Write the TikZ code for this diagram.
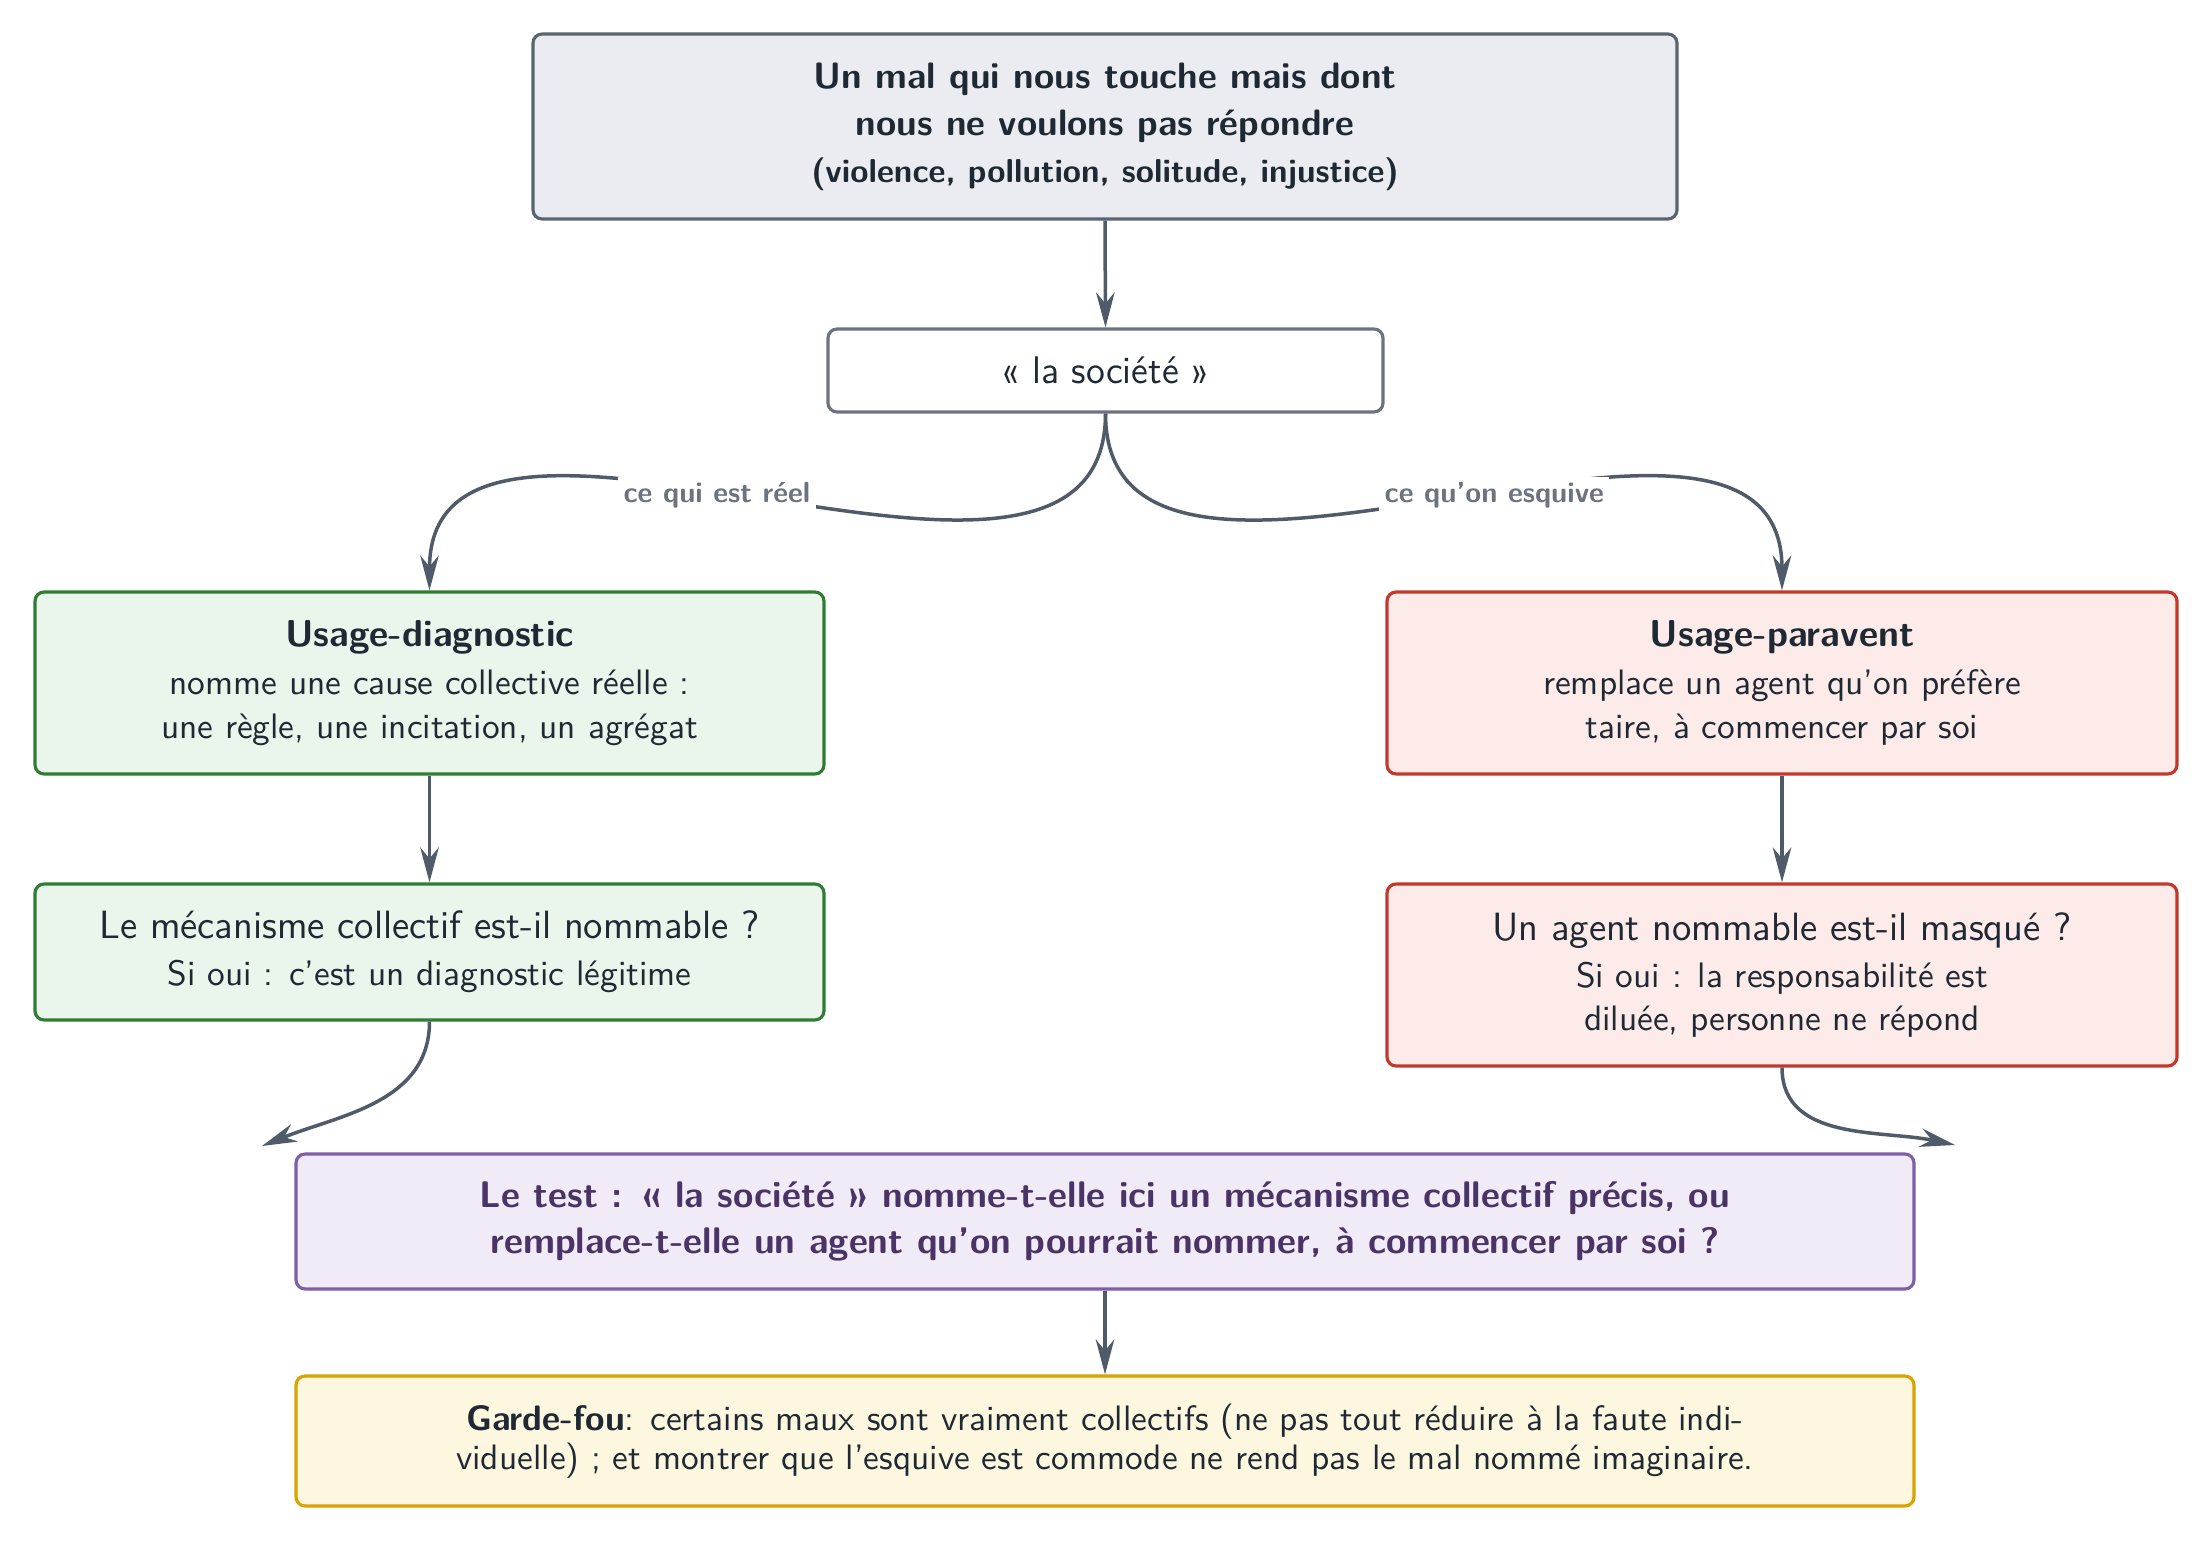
\documentclass[tikz,border=0pt]{standalone}
\usepackage{fontspec}
\usetikzlibrary{arrows.meta}
\definecolor{ink}{HTML}{1F2933}
\definecolor{arrowc}{HTML}{4F5B69}
\definecolor{lblc}{HTML}{6B7280}
\definecolor{topfill}{HTML}{EAECF1}
\definecolor{topdraw}{HTML}{5B6470}
\definecolor{socdraw}{HTML}{6B7280}
\definecolor{gfill}{HTML}{EAF5EC}
\definecolor{gdraw}{HTML}{2E7D32}
\definecolor{rfill}{HTML}{FDEBE9}
\definecolor{rdraw}{HTML}{C0392B}
\definecolor{pfill}{HTML}{F1EBF8}
\definecolor{pdraw}{HTML}{7E5FA8}
\definecolor{ptext}{HTML}{4A3365}
\definecolor{yfill}{HTML}{FDF7E0}
\definecolor{ydraw}{HTML}{D9A300}
\def\u{0.2857pt}
\newcommand{\largefs}{\fontsize{11.27}{13}\selectfont}
\newcommand{\headfs}{\fontsize{10.7}{13}\selectfont}
\newcommand{\titlesubfs}{\fontsize{9.45}{12.7}\selectfont}
\begin{document}
\begin{tikzpicture}[x=0.2857pt,y=-0.2857pt,
  box/.style={rounded corners=2.6pt, line width=0.9pt, align=center, text=ink, inner sep=0pt},
  conn/.style={line width=1pt, draw=arrowc, -{Stealth[length=10pt,width=5.3pt,inset=3.2pt]}},
  lbl/.style={fill=white, inner sep=1.5pt, font=\sffamily\bfseries\fontsize{8.25}{10}\selectfont, text=lblc}
]
\useasboundingbox (0,0) rectangle (2212,1544);

\node[box, fill=topfill, draw=topdraw, minimum width=1144*\u, minimum height=185*\u,
      font=\sffamily\bfseries\fontsize{10.5}{13.4}\selectfont] (top) at (1105,126.5)
  {Un mal qui nous touche mais dont\\ nous ne voulons pas répondre\\ \titlesubfs (violence, pollution, solitude, injustice)};

\node[box, fill=white, draw=socdraw, minimum width=555*\u, minimum height=83*\u,
      font=\sffamily\fontsize{11}{13}\selectfont] (soc) at (1105.5,370.5)
  {«~la société~»};

\node[box, fill=gfill, draw=gdraw, minimum width=789*\u, minimum height=182*\u,
      font=\sffamily\fontsize{10.1}{12.6}\selectfont] (diag) at (429.5,683)
  {\headfs\bfseries Usage-diagnostic\\[1pt] nomme une cause collective réelle~:\\ une règle, une incitation, un agrégat};

\node[box, fill=rfill, draw=rdraw, minimum width=790*\u, minimum height=182*\u,
      font=\sffamily\fontsize{10.1}{12.6}\selectfont] (para) at (1782,683)
  {\headfs\bfseries Usage-paravent\\[1pt] remplace un agent qu'on préfère\\ taire, à commencer par soi};

\node[box, fill=gfill, draw=gdraw, minimum width=789*\u, minimum height=136*\u,
      font=\sffamily\fontsize{10.1}{13.4}\selectfont] (mech) at (429.5,952)
  {\largefs Le mécanisme collectif est-il nommable~?\\ Si oui~: c'est un diagnostic légitime};

\node[box, fill=rfill, draw=rdraw, minimum width=790*\u, minimum height=182*\u,
      font=\sffamily\fontsize{10.1}{12.4}\selectfont] (agent) at (1782,975)
  {\largefs Un agent nommable est-il masqué~?\\[0.9pt] Si oui~: la responsabilité est\\ diluée, personne ne répond};

\node[box, fill=pfill, draw=pdraw, text=ptext, minimum width=1618*\u, minimum height=135*\u,
      font=\sffamily\bfseries\fontsize{10.57}{13.2}\selectfont] (test) at (1105,1221.5)
  {Le test~: «~la société~» nomme-t-elle ici un mécanisme collectif précis, ou\\ remplace-t-elle un agent qu'on pourrait nommer, à commencer par soi~?};

\node[box, fill=yfill, draw=ydraw, minimum width=1618*\u, minimum height=130*\u,
      font=\sffamily\fontsize{10.1}{11.1}\selectfont] (garde) at (1105,1441)
  {\textbf{Garde-fou}: certains maux sont vraiment collectifs (ne pas tout réduire à la faute indi-\\ viduelle)~; et montrer que l'esquive est commode ne rend pas le mal nommé imaginaire.};

\coordinate (lt) at (262,1146);
\coordinate (rt) at (1955,1145);

\draw[conn] (top.south) -- (soc.north);
\draw[conn] (soc.south) to[out=-90,in=90] node[lbl,pos=0.55]{ce qui est réel} (diag.north);
\draw[conn] (soc.south) to[out=-90,in=90] node[lbl,pos=0.55]{ce qu'on esquive} (para.north);
\draw[conn] (diag.south) -- (mech.north);
\draw[conn] (para.south) -- (agent.north);
\draw[conn] (mech.south) to[out=-90,in=22] (lt);
\draw[conn] (agent.south) to[out=-90,in=168] (rt);
\draw[conn] (test.south) -- (garde.north);
\end{tikzpicture}
\end{document}
